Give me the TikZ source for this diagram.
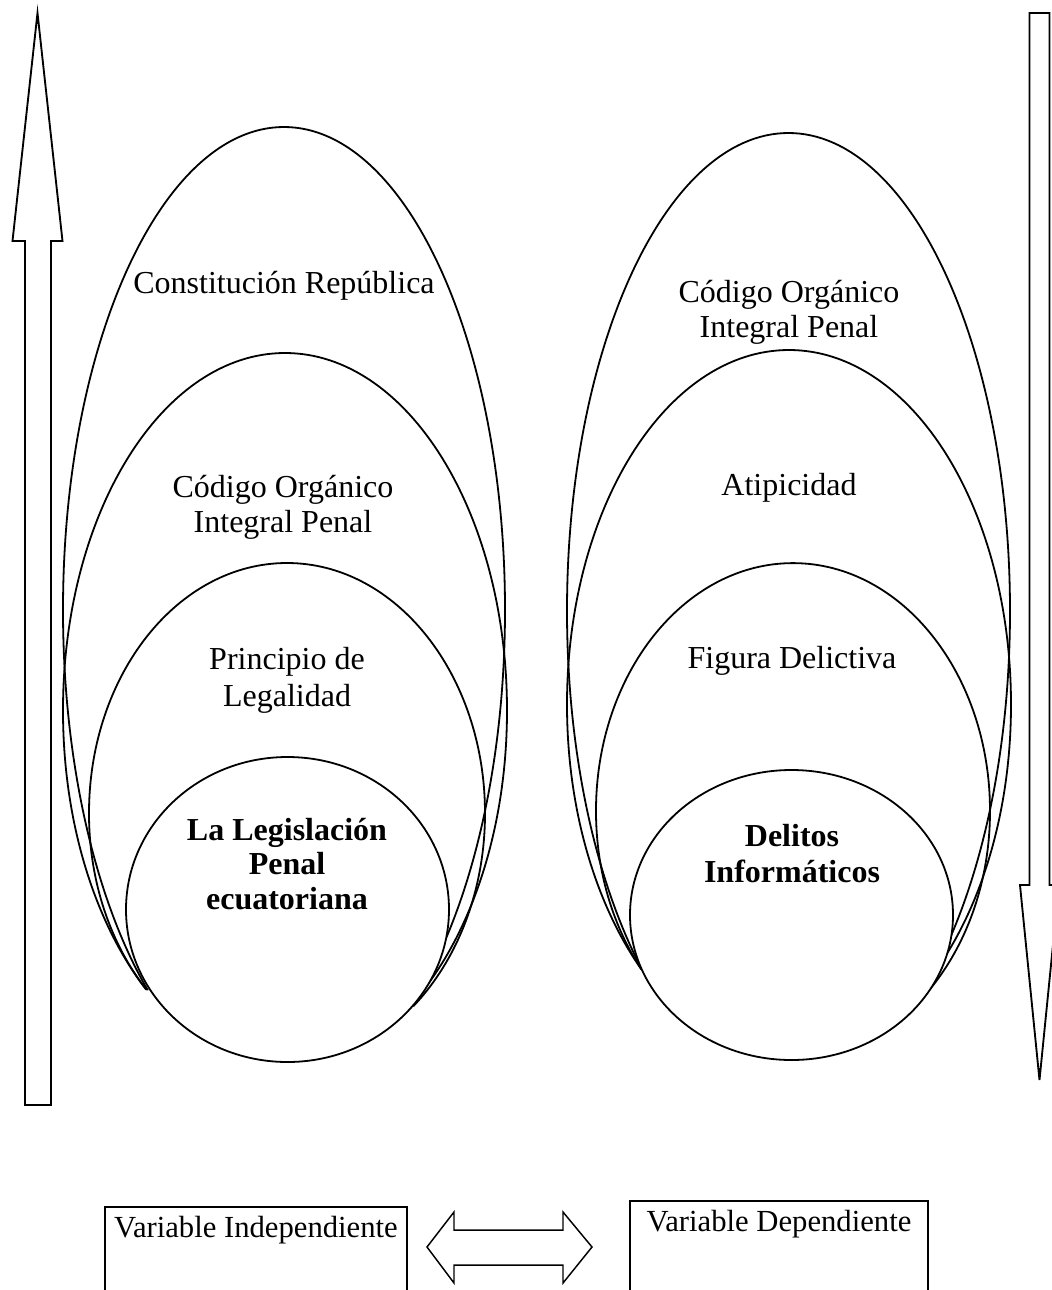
\documentclass[tikz,border=0pt]{standalone}
\usepackage{fontspec}
\setmainfont{Liberation Serif}
\begin{document}
\begin{tikzpicture}[x=0.75pt,y=-0.75pt,
  bigarrow/.style={draw=black, line width=1.4pt, line join=miter},
  oval/.style={draw=black, line width=1.35pt},
  thinbox/.style={draw=black, line width=1.1pt},
  lbl/.style={inner sep=0pt, anchor=base, font=\fontsize{24}{27}\selectfont},
  blbl/.style={lbl, font=\fontsize{24}{27}\selectfont\bfseries},
  boxlbl/.style={lbl, font=\fontsize{23}{26}\selectfont}]
\useasboundingbox (0,0) rectangle (1051,1290);
% vertical arrows
\draw[bigarrow] (25,1105) -- (25,241) -- (12.5,241) -- (37.5,13) -- (62.5,241) -- (51,241) -- (51,1105) -- cycle;
\draw[bigarrow] (1029.5,13) -- (1049.5,13) -- (1049.5,885) -- (1059,885) -- (1039.5,1080) -- (1020,885) -- (1029.5,885) -- cycle;
% left column ovals
\begin{scope}
\clip (0,0) -- (535,0) -- (535,1014) -- (0,981) -- cycle;
\draw[oval] (284,609.9) ellipse [x radius=221, y radius=482.9];
\draw[oval] (285,710.5) ellipse [x radius=222, y radius=357.5];
\draw[oval] (287,813.4) ellipse [x radius=198, y radius=250.4];
\end{scope}
\draw[oval, fill=white] (287.5,909.5) ellipse [x radius=161.5, y radius=152.5];
% right column ovals
\begin{scope}
\clip (535,0) -- (1051,0) -- (1051,998) -- (535,963) -- cycle;
\draw[oval] (788.5,611) ellipse [x radius=221.5, y radius=478];
\draw[oval] (789,704.5) ellipse [x radius=222, y radius=354.5];
\draw[oval] (793,811) ellipse [x radius=197, y radius=247.9];
\end{scope}
\draw[oval, fill=white] (791.5,915) ellipse [x radius=161.5, y radius=145];
% left texts
\node[lbl] (c1) at (284,293) {Constitución República};
\node[lbl] (c2a) at (283,497) {Código Orgánico};
\node[lbl] (c2b) at (283,532) {Integral Penal};
\node[lbl] (c3a) at (287,669) {Principio de};
\node[lbl] (c3b) at (287,706) {Legalidad};
\node[blbl] (c4a) at (287,840) {La Legislación};
\node[blbl] (c4b) at (287,874) {Penal};
\node[blbl] (c4c) at (287,909) {ecuatoriana};
% right texts
\node[lbl] (d1a) at (789,302) {Código Orgánico};
\node[lbl] (d1b) at (789,337) {Integral Penal};
\node[lbl] (d2) at (789,495) {Atipicidad};
\node[lbl] (d3) at (792,668) {Figura Delictiva};
\node[blbl] (d4a) at (792,846) {Delitos};
\node[blbl] (d4b) at (792,882) {Informáticos};
% bottom boxes
\draw[thinbox] (105,1207) rectangle (407,1296);
\node[boxlbl] (vi) at (256,1237) {Variable Independiente};
\draw[thinbox] (630,1201) rectangle (928,1296);
\node[boxlbl] (vd) at (779,1231) {Variable Dependiente};
\draw[thinbox, line join=miter] (427,1247) -- (454,1212) -- (454,1230) -- (563,1230) -- (563,1212) -- (592,1247) -- (563,1283) -- (563,1265) -- (454,1265) -- (454,1283) -- cycle;
\end{tikzpicture}
\end{document}
